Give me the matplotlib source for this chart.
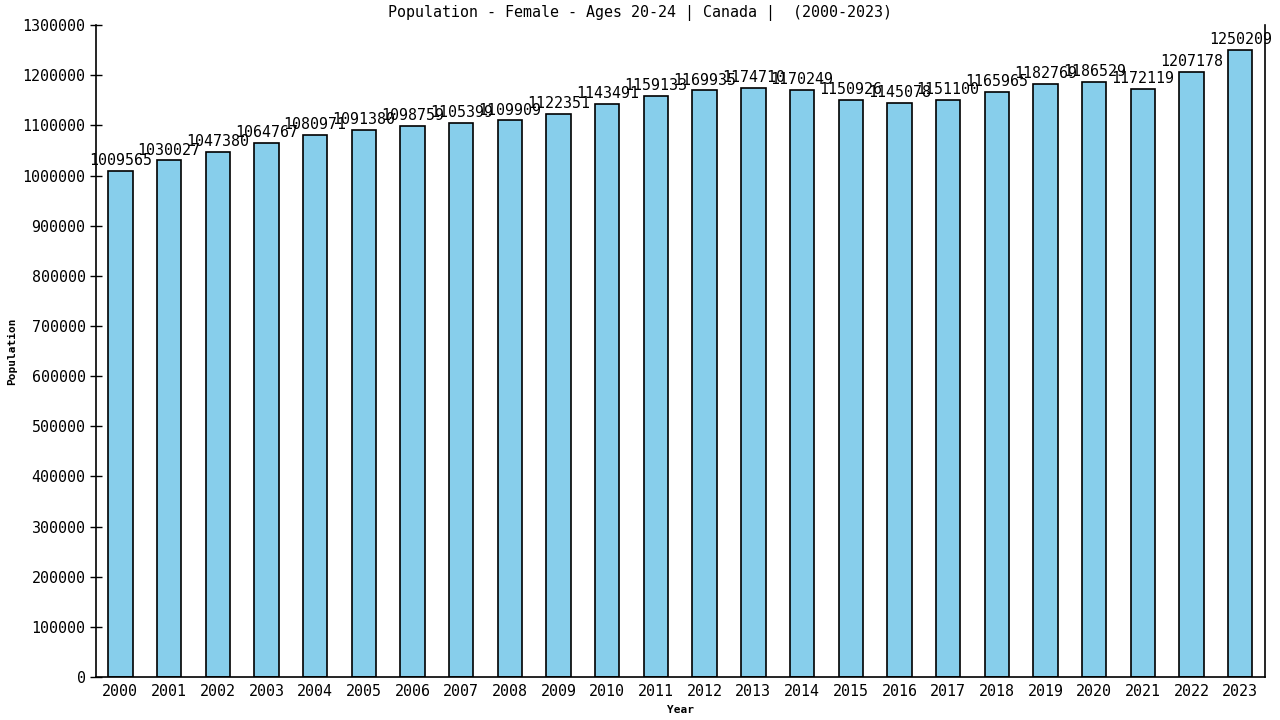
import matplotlib
matplotlib.use("Agg")
import matplotlib.pyplot as plt

years = list(range(2000, 2024))
population = [1009565, 1030027, 1047380, 1064767, 1080971, 1091380, 1098759,
              1105399, 1109909, 1122351, 1143491, 1159133, 1169935, 1174710,
              1170249, 1150926, 1145078, 1151100, 1165965, 1182769, 1186529,
              1172119, 1207178, 1250209]
yticks = list(range(0, 1300001, 100000))

plt.rcParams["font.family"] = "DejaVu Sans Mono"

fig = plt.figure(figsize=(12.8, 7.2), dpi=100)
ax = fig.add_axes([0.075, 0.0597, 0.913, 0.9055])

x = list(range(len(years)))
ax.bar(x, population, width=0.5, color="#87CEEB", edgecolor="black", linewidth=1.2)
for xi, v in zip(x, population):
    ax.annotate(str(v), (xi, v), xytext=(0, 2), textcoords="offset points",
                ha="center", va="bottom", fontsize=10.8)

ax.set_xlim(-0.5, len(years) - 0.5)
ax.set_ylim(0, 1300000)
ax.set_xticks(x)
ax.set_xticklabels([str(y) for y in years], fontsize=10.8)
ax.tick_params(axis="x", length=0, pad=5)
ax.set_yticks(yticks)
ax.set_yticklabels([str(t) for t in yticks], fontsize=10.8)
ax.tick_params(axis="y", direction="inout", length=8, width=1)
ax.spines["top"].set_visible(False)
for s in ["left", "bottom", "right"]:
    ax.spines[s].set_linewidth(1.2)

ax.set_xlabel("Year", fontsize=8, fontweight="bold", labelpad=4)
ax.set_ylabel("Population", fontsize=8, fontweight="bold", labelpad=4)
fig.text(0.5, 0.982, "Population - Female - Ages 20-24 | Canada |  (2000-2023)",
         ha="center", va="center", fontsize=10.8)

fig.savefig("out.png", dpi=100)
